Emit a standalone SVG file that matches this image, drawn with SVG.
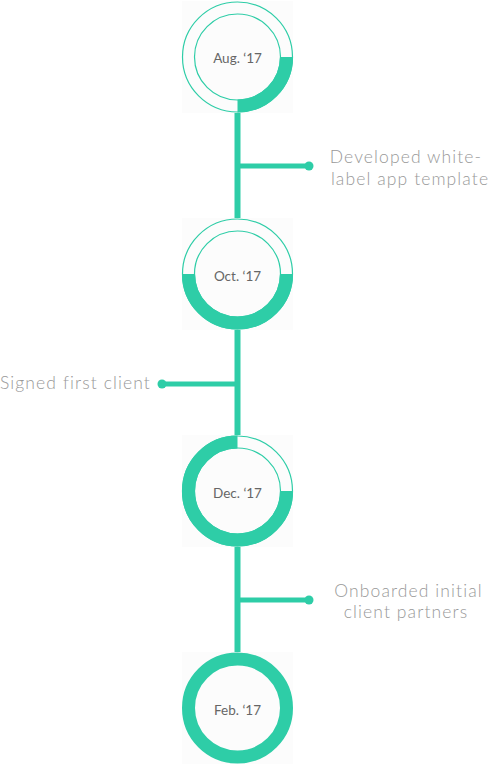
<svg xmlns="http://www.w3.org/2000/svg" width="489" height="766" viewBox="0 0 489 766">
<style>
.card{fill:#fcfcfc}
.thin{fill:none;stroke:#2ecda7;stroke-width:1.2}
.arc{fill:none;stroke:#2ecda7;stroke-width:13}
.conn{stroke:#2ecda7;stroke-width:5;fill:none}
.spine{stroke:#2ecda7;stroke-width:6;fill:none}
.dot{fill:#2ecda7}
.date{font-family:Lato,"Liberation Sans",sans-serif;font-size:13.5px;fill:#666;text-anchor:middle}
.lbl{font-family:Lato,"Liberation Sans",sans-serif;font-weight:300;font-size:17.5px;fill:#999;letter-spacing:1.1px}
</style>
<rect width="489" height="766" fill="#fff"/>
<g id="connectors">
<line class="spine" x1="237.5" y1="57" x2="237.5" y2="708"/>
<line class="conn" x1="237.5" y1="166" x2="309" y2="166"/>
<circle class="dot" cx="309" cy="166" r="4.5"/>
<line class="conn" x1="237.5" y1="384" x2="162" y2="384"/>
<circle class="dot" cx="162" cy="384" r="4.5"/>
<line class="conn" x1="237.5" y1="600" x2="309" y2="600"/>
<circle class="dot" cx="309" cy="600" r="4.5"/>
</g>
<g id="node-aug">
<rect class="card" x="182" y="1" width="111" height="112"/>
<circle class="thin" cx="237.5" cy="57" r="55"/>
<circle class="thin" cx="237.5" cy="57" r="43"/>
<path class="arc" d="M286.5 57 A49 49 0 0 1 237.5 106"/>
<text class="date" x="237.5" y="63">Aug. ‘17</text>
</g>
<g id="node-oct">
<rect class="card" x="182" y="218" width="111" height="112"/>
<circle class="thin" cx="237.5" cy="274" r="55"/>
<circle class="thin" cx="237.5" cy="274" r="43"/>
<path class="arc" d="M286.5 274 A49 49 0 0 1 237.5 323 A49 49 0 0 1 188.5 274"/>
<text class="date" x="237.5" y="280.5">Oct. ‘17</text>
</g>
<g id="node-dec">
<rect class="card" x="182" y="435" width="111" height="112"/>
<circle class="thin" cx="237.5" cy="491" r="55"/>
<circle class="thin" cx="237.5" cy="491" r="43"/>
<path class="arc" d="M286.5 491 A49 49 0 1 1 237.5 442"/>
<text class="date" x="237.5" y="497.5">Dec. ‘17</text>
</g>
<g id="node-feb">
<rect class="card" x="182" y="652" width="111" height="112"/>
<circle class="arc" cx="237.5" cy="708" r="49"/>
<text class="date" x="237.5" y="714.5">Feb. ‘17</text>
</g>
<g id="label-1">
<text class="lbl" x="406" y="163" text-anchor="middle">Developed white-</text>
<text class="lbl" x="410" y="185" text-anchor="middle">label app template</text>
</g>
<g id="label-2">
<text class="lbl" x="0" y="389">Signed first client</text>
</g>
<g id="label-3">
<text class="lbl" x="408.5" y="597" text-anchor="middle">Onboarded initial</text>
<text class="lbl" x="406" y="618" text-anchor="middle">client partners</text>
</g>
</svg>
